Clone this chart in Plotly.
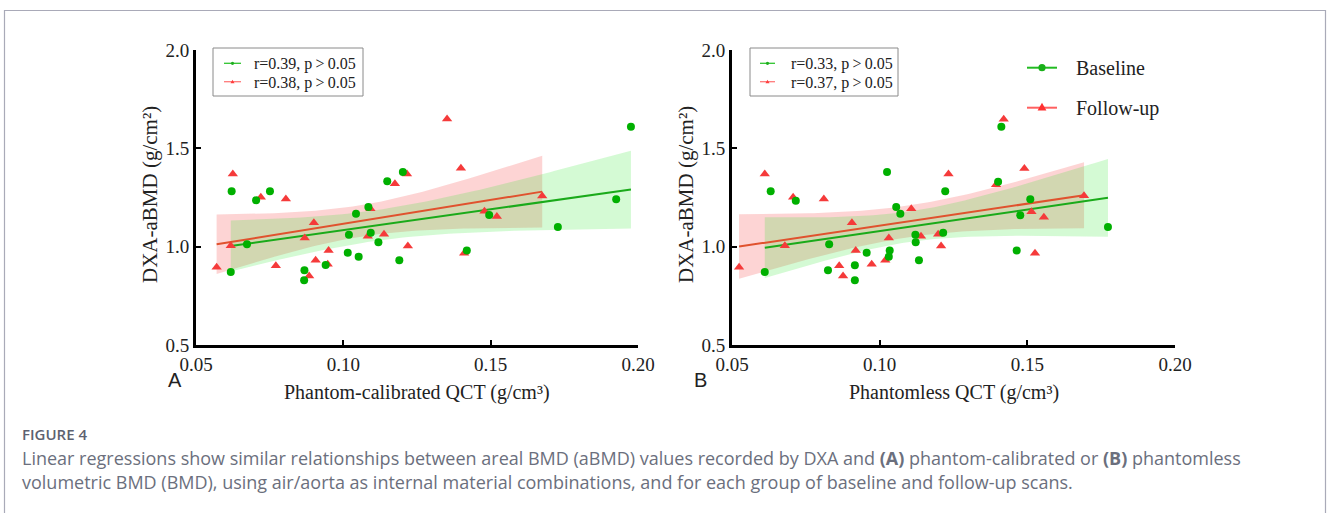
import numpy as np
import plotly.graph_objects as go

# ---------------- data ----------------
A_base_x = [0.0621, 0.0618, 0.0673, 0.0704, 0.0751, 0.0868, 0.0867, 0.0940, 0.1015, 0.1019, 0.1043, 0.1052,
            0.1085, 0.1093, 0.1119, 0.1149, 0.1202, 0.1190, 0.1419, 0.1495, 0.1728, 0.1926, 0.1976]
A_base_y = [1.282, 0.871, 1.012, 1.236, 1.282, 0.880, 0.829, 0.907, 0.969, 1.061, 1.168, 0.949,
            1.202, 1.071, 1.022, 1.333, 1.380, 0.931, 0.980, 1.161, 1.100, 1.241, 1.610]
A_fu_x = [0.0570, 0.0625, 0.0618, 0.0720, 0.0805, 0.0771, 0.0869, 0.0900, 0.0906, 0.0884, 0.0950, 0.0947,
          0.1083, 0.1092, 0.1138, 0.1175, 0.1216, 0.1219, 0.1352, 0.1399, 0.1410, 0.1479, 0.1521, 0.1675]
A_fu_y = [0.895, 1.370, 1.005, 1.251, 1.242, 0.903, 1.044, 1.122, 0.931, 0.851, 0.980, 0.910,
          1.053, 1.193, 1.063, 1.320, 1.370, 1.004, 1.649, 1.399, 0.966, 1.180, 1.153, 1.258]

B_base_x = [0.0631, 0.0611, 0.0716, 0.0829, 0.0825, 0.0916, 0.0916, 0.0956, 0.1025, 0.1034, 0.1031, 0.1056,
            0.1070, 0.1121, 0.1122, 0.1133, 0.1215, 0.1222, 0.1412, 0.1401, 0.1510, 0.1476, 0.1464, 0.1773]
B_base_y = [1.282, 0.871, 1.234, 1.012, 0.880, 0.905, 0.829, 0.969, 1.380, 0.980, 0.949, 1.202,
            1.168, 1.061, 1.022, 0.931, 1.071, 1.282, 1.610, 1.330, 1.241, 1.160, 0.980, 1.100]
B_fu_x = [0.0524, 0.0611, 0.0679, 0.0707, 0.0811, 0.0863, 0.0876, 0.0906, 0.0919, 0.0973, 0.1019, 0.1031,
          0.1107, 0.1140, 0.1198, 0.1208, 0.1233, 0.1420, 0.1394, 0.1490, 0.1514, 0.1556, 0.1526, 0.1692]
B_fu_y = [0.895, 1.370, 1.005, 1.251, 1.242, 0.903, 0.851, 1.122, 0.980, 0.910, 0.931, 1.044,
          1.193, 1.053, 1.063, 1.004, 1.370, 1.648, 1.315, 1.397, 1.178, 1.150, 0.966, 1.259]

A_labels = ["r=0.39, p\u2009>\u20090.05", "r=0.38, p\u2009>\u20090.05"]
B_labels = ["r=0.33, p\u2009>\u20090.05", "r=0.37, p\u2009>\u20090.05"]
group_names = ["Baseline", "Follow-up"]
x_ticks = [0.05, 0.10, 0.15, 0.20]
y_ticks = [0.5, 1.0, 1.5, 2.0]
x_titles = ["Phantom-calibrated QCT (g/cm\u00b3)", "Phantomless QCT (g/cm\u00b3)"]
y_title = "DXA-aBMD (g/cm\u00b2)"
panel_letters = ["A", "B"]
caption_head = "FIGURE 4"
caption_lines = [
    "Linear regressions show similar relationships between areal BMD (aBMD) values recorded by DXA and "
    "<b>(A)</b> phantom-calibrated or <b>(B)</b> phantomless",
    "volumetric BMD (BMD), using air/aorta as internal material combinations, and for each group of "
    "baseline and follow-up scans.",
]

# ---------------- styles ----------------
W, H = 1328, 513
GREEN = "#00b000"
GREEN_LINE = "#1aaa1a"
RED = "#f53a3a"
RED_LINE = "#e0522e"
GREEN_FILL = "rgba(40,230,40,0.20)"
RED_FILL = "rgba(245,60,60,0.22)"
SERIF = "Liberation Serif"
TXT = "#222"

T95 = {21: 2.080, 22: 2.074, 23: 2.069}


def px(x):
    return x / W


def py(y):
    return (H - y) / H


def fit_band(x, y):
    x = np.asarray(x, float)
    y = np.asarray(y, float)
    n = len(x)
    b1, b0 = np.polyfit(x, y, 1)
    g = np.linspace(x.min(), x.max(), 80)
    yh = b0 + b1 * g
    res = y - (b0 + b1 * x)
    s = np.sqrt(np.sum(res ** 2) / (n - 2))
    xm = x.mean()
    sxx = np.sum((x - xm) ** 2)
    se = s * np.sqrt(1.0 / n + (g - xm) ** 2 / sxx)
    t = T95.get(n - 2, 2.07)
    return g, yh, yh - t * se, yh + t * se


fig = go.Figure()

panels = [
    ("x", "y", A_base_x, A_base_y, A_fu_x, A_fu_y),
    ("x2", "y2", B_base_x, B_base_y, B_fu_x, B_fu_y),
]

for xa, ya, bx, by, fx, fy in panels:
    gb = fit_band(bx, by)
    gf = fit_band(fx, fy)
    fig.add_trace(go.Scatter(x=list(gf[0]) + list(gf[0][::-1]), y=list(gf[3]) + list(gf[2][::-1]),
                             fill="toself", fillcolor=RED_FILL, line=dict(width=0), mode="lines",
                             hoverinfo="skip", showlegend=False, xaxis=xa, yaxis=ya))
    fig.add_trace(go.Scatter(x=list(gb[0]) + list(gb[0][::-1]), y=list(gb[3]) + list(gb[2][::-1]),
                             fill="toself", fillcolor=GREEN_FILL, line=dict(width=0), mode="lines",
                             hoverinfo="skip", showlegend=False, xaxis=xa, yaxis=ya))
    fig.add_trace(go.Scatter(x=gf[0], y=gf[1], mode="lines", line=dict(color=RED_LINE, width=2),
                             showlegend=False, xaxis=xa, yaxis=ya))
    fig.add_trace(go.Scatter(x=gb[0], y=gb[1], mode="lines", line=dict(color=GREEN_LINE, width=2),
                             showlegend=False, xaxis=xa, yaxis=ya))
    fig.add_trace(go.Scatter(x=fx, y=fy, mode="markers", name=group_names[1],
                             marker=dict(symbol="triangle-up", size=9, color=RED),
                             showlegend=False, xaxis=xa, yaxis=ya))
    fig.add_trace(go.Scatter(x=bx, y=by, mode="markers", name=group_names[0],
                             marker=dict(symbol="circle", size=8, color=GREEN),
                             showlegend=False, xaxis=xa, yaxis=ya))

ydom = [py(345), py(50)]
xdomA = [px(196), px(638)]
xdomB = [px(732), px(1175)]

axis_common = dict(showline=True, linecolor="black", linewidth=3, ticks="inside", ticklen=5,
                   tickwidth=2, tickcolor="black", showgrid=False, zeroline=False, automargin=False,
                   tickfont=dict(family=SERIF, size=19, color=TXT), ticklabelstandoff=0)

xax = dict(axis_common, range=[0.05, 0.20], tickvals=x_ticks, tickformat=".2f")
yax = dict(axis_common, range=[0.5, 2.0], tickvals=y_ticks, tickformat=".1f")

fig.update_layout(
    width=W, height=H, margin=dict(l=0, r=0, t=0, b=0, pad=0, autoexpand=False),
    plot_bgcolor="white", paper_bgcolor="white", showlegend=False,
    xaxis=dict(xax, domain=xdomA, anchor="y"),
    yaxis=dict(yax, domain=ydom, anchor="x"),
    xaxis2=dict(xax, domain=xdomB, anchor="y2"),
    yaxis2=dict(yax, domain=ydom, anchor="x2"),
)

shapes = []
annotations = []


def ann(text, x, y, size, family=SERIF, color=TXT, xanchor="left", angle=0, weight=None):
    f = dict(family=family, size=size, color=color)
    if weight:
        f["weight"] = weight
    annotations.append(dict(text=text, x=px(x), y=py(y), xref="paper", yref="paper", showarrow=False,
                            font=f, xanchor=xanchor, yanchor="middle", textangle=angle))


def circle(cx, cy, r, color):
    shapes.append(dict(type="circle", xref="paper", yref="paper", x0=px(cx - r), x1=px(cx + r),
                       y0=py(cy + r), y1=py(cy - r), fillcolor=color, line=dict(width=0)))


def triangle(cx, cy, r, color):
    path = (f"M {px(cx - r)} {py(cy + r * 0.75)} L {px(cx + r)} {py(cy + r * 0.75)} "
            f"L {px(cx)} {py(cy - r)} Z")
    shapes.append(dict(type="path", xref="paper", yref="paper", path=path, fillcolor=color,
                       line=dict(width=0)))


def hline(x0, x1, y, color, width):
    shapes.append(dict(type="line", xref="paper", yref="paper", x0=px(x0), x1=px(x1), y0=py(y), y1=py(y),
                       line=dict(color=color, width=width)))


# small r/p legends (boxes inside the panels)
for (bx0, bx1, lx0, lx1, tx), labels in [((213, 363, 224, 241, 252), A_labels),
                                         ((750, 898, 760, 775, 789), B_labels)]:
    shapes.append(dict(type="rect", xref="paper", yref="paper", x0=px(bx0), x1=px(bx1), y0=py(96), y1=py(48),
                       line=dict(color="#8a8a8a", width=1), fillcolor="white"))
    hline(lx0, lx1, 63.3, "#2fc42f", 1.3)
    circle((lx0 + lx1) / 2, 63.3, 1.6, "#1fae1f")
    hline(lx0, lx1, 81.7, "#ff7a7a", 1.3)
    triangle((lx0 + lx1) / 2, 81.7, 2.0, "#ff3c3c")
    ann(labels[0], tx, 64, 16)
    ann(labels[1], tx, 82.5, 16)

# group legend (panel B)
hline(1027, 1057, 67.7, "#22bb22", 2)
circle(1042, 67.7, 3.6, "#18b018")
ann(group_names[0], 1074, 68, 20)
hline(1027, 1057, 107.7, "#ff6060", 2)
triangle(1042, 107.2, 4.4, "#ff3030")
ann(group_names[1], 1074, 108, 20)

# axis titles & panel letters
for i, (cx, lx) in enumerate([((196 + 638) / 2, 150), ((732 + 1175) / 2, 686)]):
    ann(x_titles[i], cx, 392, 20, xanchor="center")
    ann(y_title, lx, 195, 21, xanchor="center", angle=-90)
ann(panel_letters[0], 175, 380, 20, family="Liberation Sans", xanchor="center")
ann(panel_letters[1], 700, 380, 20, family="Liberation Sans", xanchor="center")

# caption
CAP = "#6b6f7d"
ann(caption_head, 20, 434, 15, family="Open Sans", color="#5d6170", weight=600)
ann(caption_lines[0], 20, 458, 18, family="Open Sans", color=CAP)
ann(caption_lines[1], 20, 482, 18, family="Open Sans", color=CAP)

# figure frame
shapes.append(dict(type="path", xref="paper", yref="paper",
                   path=f"M {px(4.5)} -0.05 L {px(4.5)} {py(10.5)} L {px(1325.5)} {py(10.5)} L {px(1325.5)} -0.05",
                   line=dict(color="#a9aab8", width=1.2)))

fig.update_layout(shapes=shapes, annotations=annotations, hovermode=False)

fig.write_html("out.html", config={"displayModeBar": False},
               post_script="document.body.style.margin='0';document.body.style.padding='0';")
